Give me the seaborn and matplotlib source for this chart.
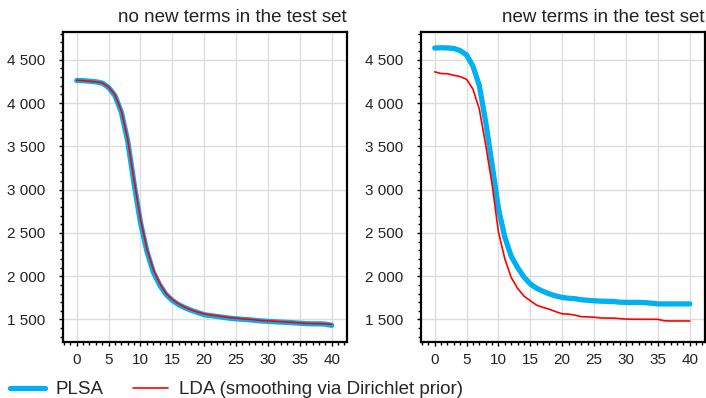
import numpy as np
import pandas as pd
import seaborn as sns
import matplotlib.pyplot as plt
from matplotlib.ticker import FuncFormatter, MultipleLocator

# iteraciones
iteraciones = list(range(41))

# panel izquierdo: sin terminos nuevos
plsa_izq = [4260, 4258, 4252, 4245, 4230, 4180, 4085, 3895, 3560, 3070, 2620,
            2290, 2050, 1900, 1790, 1720, 1670, 1635, 1605, 1580, 1555,
            1545, 1535, 1525, 1515, 1508, 1502, 1497, 1490, 1483, 1478,
            1474, 1470, 1466, 1462, 1457, 1452, 1450, 1450, 1447, 1432]
lda_izq = [4262, 4258, 4252, 4245, 4232, 4185, 4095, 3910, 3580, 3110, 2660,
           2320, 2080, 1920, 1800, 1730, 1680, 1640, 1610, 1585, 1565,
           1552, 1542, 1532, 1522, 1515, 1508, 1503, 1495, 1488, 1485,
           1480, 1475, 1470, 1466, 1460, 1455, 1453, 1452, 1450, 1445]

# panel derecho: terminos nuevos
plsa_der = [4635, 4638, 4636, 4630, 4605, 4555, 4425, 4200, 3780, 3290, 2780,
            2450, 2230, 2100, 1990, 1910, 1860, 1825, 1795, 1772, 1755,
            1745, 1740, 1728, 1722, 1716, 1712, 1710, 1708, 1700, 1698,
            1697, 1697, 1695, 1688, 1680, 1680, 1680, 1680, 1680, 1680]
lda_der = [4360, 4340, 4338, 4320, 4305, 4273, 4160, 3930, 3515, 3060, 2510,
           2200, 1985, 1860, 1770, 1716, 1665, 1640, 1618, 1590, 1565,
           1562, 1550, 1532, 1530, 1526, 1518, 1516, 1516, 1510, 1505,
           1503, 1503, 1502, 1502, 1502, 1485, 1483, 1483, 1483, 1483]

titulos = ['no new terms in the test set', 'new terms in the test set']
etiquetas = ['PLSA', 'LDA (smoothing via Dirichlet prior)']

sns.set_theme(style='whitegrid')
plt.rcParams['font.family'] = ['Liberation Sans', 'DejaVu Sans']

fig = plt.figure(figsize=(7.06, 3.98), dpi=100)
ax1 = fig.add_axes([63/706, 56/398, 284/706, 310/398])
ax2 = fig.add_axes([421/706, 56/398, 284/706, 310/398])

fmt = FuncFormatter(lambda v, p: f'{int(v):,}'.replace(',', ' '))

for ax, plsa, lda, titulo in [(ax1, plsa_izq, lda_izq, titulos[0]),
                              (ax2, plsa_der, lda_der, titulos[1])]:
    df = pd.DataFrame({'iter': iteraciones, 'PLSA': plsa, 'LDA': lda})
    sns.lineplot(data=df, x='iter', y='PLSA', ax=ax, color='#00b0f0', lw=3.8,
                 label=etiquetas[0], legend=False)
    sns.lineplot(data=df, x='iter', y='LDA', ax=ax, color='#ff0000', lw=1.2,
                 label=etiquetas[1], legend=False)
    ax.set_xlim(-2.15, 42.4)
    ax.set_ylim(1240, 4820)
    ax.set_xlabel('')
    ax.set_ylabel('')
    ax.xaxis.set_major_locator(MultipleLocator(5))
    ax.xaxis.set_minor_locator(MultipleLocator(1))
    ax.yaxis.set_major_locator(MultipleLocator(500))
    ax.yaxis.set_minor_locator(MultipleLocator(100))
    ax.yaxis.set_major_formatter(fmt)
    ax.grid(True, which='major', color='#dddddd', lw=1)
    ax.grid(False, which='minor')
    ax.tick_params(which='both', direction='out', colors='black',
                   labelsize=11, labelcolor='#222222')
    ax.tick_params(which='major', length=3, width=1, bottom=True, left=True)
    ax.tick_params(which='minor', length=2, width=1, bottom=True, left=True)
    ax.tick_params(axis='y', which='major', pad=10)
    ax.tick_params(axis='x', which='major', pad=5)
    for s in ax.spines.values():
        s.set_color('black')
        s.set_linewidth(1.6)
    ax.set_title(titulo, loc='right', fontsize=13.5, color='#222222', pad=7)

h, l = ax1.get_legend_handles_labels()
fig.legend(h, l, loc='lower left', bbox_to_anchor=(-0.01, -0.043), ncol=2,
           frameon=False, fontsize=13.5, handlelength=1.87, handletextpad=0.55,
           columnspacing=1.6)

fig.savefig('out.png', dpi=100)
